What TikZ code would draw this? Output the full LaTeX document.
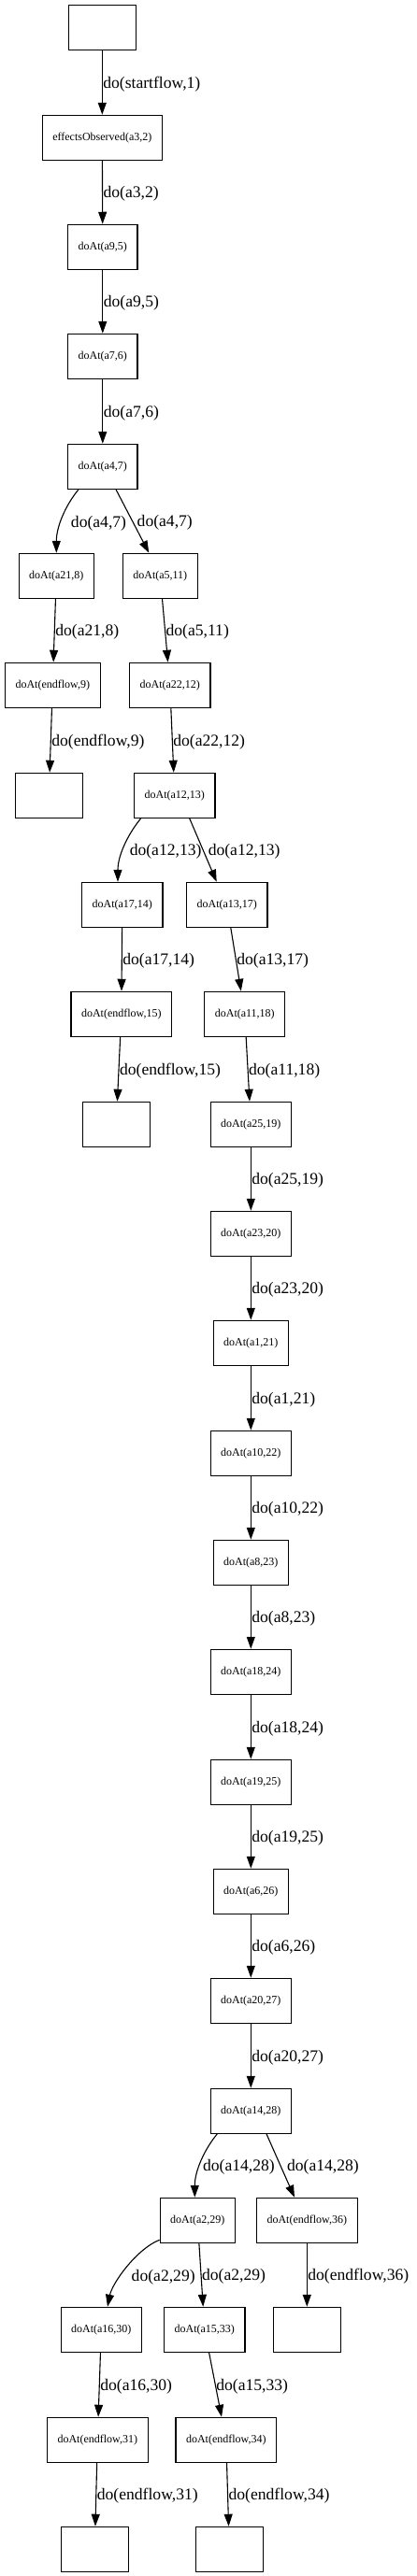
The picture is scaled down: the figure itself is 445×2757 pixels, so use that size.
\documentclass[tikz,border=0pt]{standalone}
\usepackage{fontspec}
\setmainfont{Liberation Serif}
\usetikzlibrary{arrows.meta}

\begin{document}
\begin{tikzpicture}[x=1pt,y=-1pt,
    state/.style={draw,line width=1.1pt,rectangle,minimum width=72pt,
      minimum height=48pt,inner xsep=11pt,font=\fontsize{12}{14}\selectfont},
    flow/.style={draw,line width=1.1pt,-{Triangle[length=13pt,width=9pt]}},
    lbl/.style={anchor=west,inner sep=0.5pt,yshift=-1.5pt,
      font=\fontsize{17.6}{20}\selectfont}]
  \fill[white] (0,0) rectangle (445,2757);
  \node[state] (start) at (109.3,29.3) {};
  \node[state] (eff) at (109.3,147.3) {effectsObserved(a3,2)};
  \node[state] (a9) at (109.8,264.3) {doAt(a9,5)};
  \node[state] (a7) at (109.8,381.3) {doAt(a7,6)};
  \node[state] (a4) at (109.8,499.3) {doAt(a4,7)};
  \node[state] (a21) at (60.3,616.3) {doAt(a21,8)};
  \node[state] (a5) at (171.3,616.3) {doAt(a5,11)};
  \node[state] (end9) at (56.3,733.3) {doAt(endflow,9)};
  \node[state] (a22) at (181.8,733.3) {doAt(a22,12)};
  \node[state] (stop9) at (52.3,851.3) {};
  \node[state] (a12) at (186.8,851.3) {doAt(a12,13)};
  \node[state] (a17) at (130.8,968.3) {doAt(a17,14)};
  \node[state] (a13) at (242.8,968.3) {doAt(a13,17)};
  \node[state] (end15) at (129.8,1085.3) {doAt(endflow,15)};
  \node[state] (a11) at (261.8,1085.3) {doAt(a11,18)};
  \node[state] (stop15) at (124.3,1203.3) {};
  \node[state] (a25) at (268.3,1203.3) {doAt(a25,19)};
  \node[state] (a23) at (268.3,1320.3) {doAt(a23,20)};
  \node[state] (a1) at (268.3,1437.3) {doAt(a1,21)};
  \node[state] (a10) at (268.3,1555.3) {doAt(a10,22)};
  \node[state] (a8) at (268.3,1672.3) {doAt(a8,23)};
  \node[state] (a18) at (268.3,1789.3) {doAt(a18,24)};
  \node[state] (a19) at (268.3,1907.3) {doAt(a19,25)};
  \node[state] (a6) at (268.3,2024.3) {doAt(a6,26)};
  \node[state] (a20) at (268.3,2141.3) {doAt(a20,27)};
  \node[state] (a14) at (268.3,2259.3) {doAt(a14,28)};
  \node[state] (a2) at (211.3,2376.3) {doAt(a2,29)};
  \node[state] (end36) at (328.3,2376.3) {doAt(endflow,36)};
  \node[state] (a16) at (108.3,2493.3) {doAt(a16,30)};
  \node[state] (a15) at (218.8,2493.3) {doAt(a15,33)};
  \node[state] (stop36) at (328.3,2493.3) {};
  \node[state] (end31) at (104.3,2611.3) {doAt(endflow,31)};
  \node[state] (end34) at (241.8,2611.3) {doAt(endflow,34)};
  \node[state] (stop31) at (101.3,2728.3) {};
  \node[state] (stop34) at (245.3,2728.3) {};

  \draw[flow] (start) -- node[lbl] {do(startflow,1)} (eff);
  \draw[flow] (eff) -- node[lbl] {do(a3,2)} (a9);
  \draw[flow] (a9) -- node[lbl] {do(a9,5)} (a7);
  \draw[flow] (a7) -- node[lbl] {do(a7,6)} (a4);
  \draw[flow] ([xshift=-25.8pt]a4.south) .. controls +(-14,17) and +(0,-28) ..
    node[lbl,xshift=8pt,yshift=-4.8pt] {do(a4,7)} (a21.north);
  \draw[flow] ([xshift=14.2pt]a4.south) --
    node[lbl,xshift=4pt] {do(a4,7)} ([xshift=-12pt]a5.north);
  \draw[flow] (a21) -- node[lbl] {do(a21,8)} (end9);
  \draw[flow] (a5) -- node[lbl] {do(a5,11)} (a22);
  \draw[flow] (end9) -- node[lbl] {do(endflow,9)} (stop9);
  \draw[flow] (a22) -- node[lbl] {do(a22,12)} (a12);
  \draw[flow] ([xshift=-36.1pt]a12.south) .. controls +(-14,17) and +(0,-28) ..
    node[lbl,xshift=4.6pt,yshift=-4.5pt] {do(a12,13)} ([xshift=-4.8pt]a17.north);
  \draw[flow] ([xshift=15.9pt]a12.south) --
    node[lbl,xshift=4.5pt] {do(a12,13)} ([xshift=-11.1pt]a13.north);
  \draw[flow] (a17) -- node[lbl] {do(a17,14)} (end15);
  \draw[flow] (a13) -- node[lbl] {do(a13,17)} (a11);
  \draw[flow] (end15) -- node[lbl] {do(endflow,15)} (stop15);
  \draw[flow] (a11) -- node[lbl] {do(a11,18)} (a25);
  \draw[flow] (a25) -- node[lbl] {do(a25,19)} (a23);
  \draw[flow] (a23) -- node[lbl] {do(a23,20)} (a1);
  \draw[flow] (a1) -- node[lbl] {do(a1,21)} (a10);
  \draw[flow] (a10) -- node[lbl] {do(a10,22)} (a8);
  \draw[flow] (a8) -- node[lbl] {do(a8,23)} (a18);
  \draw[flow] (a18) -- node[lbl] {do(a18,24)} (a19);
  \draw[flow] (a19) -- node[lbl] {do(a19,25)} (a6);
  \draw[flow] (a6) -- node[lbl] {do(a6,26)} (a20);
  \draw[flow] (a20) -- node[lbl] {do(a20,27)} (a14);
  \draw[flow] ([xshift=-36pt]a14.south) .. controls +(-14,17) and +(0,-28) ..
    node[lbl,xshift=1pt,yshift=-4pt] {do(a14,28)} ([xshift=-3pt]a2.north);
  \draw[flow] ([xshift=16.7pt]a14.south) --
    node[lbl,xshift=6pt] {do(a14,28)} ([xshift=-13.3pt]end36.north);
  \draw[flow] ([yshift=3.6pt]a2.south west) .. controls +(-25,10) and +(5,-25) ..
    node[lbl,xshift=4.4pt,yshift=-8.5pt] {do(a2,29)} ([xshift=6.7pt]a16.north);
  \draw[flow] (a2) -- node[lbl] {do(a2,29)} (a15);
  \draw[flow] (end36) -- node[lbl] {do(endflow,36)} (stop36);
  \draw[flow] (a16) -- node[lbl] {do(a16,30)} (end31);
  \draw[flow] (a15) -- node[lbl] {do(a15,33)} (end34);
  \draw[flow] (end31) -- node[lbl] {do(endflow,31)} (stop31);
  \draw[flow] (end34) -- node[lbl] {do(endflow,34)} (stop34);
\end{tikzpicture}
\end{document}
